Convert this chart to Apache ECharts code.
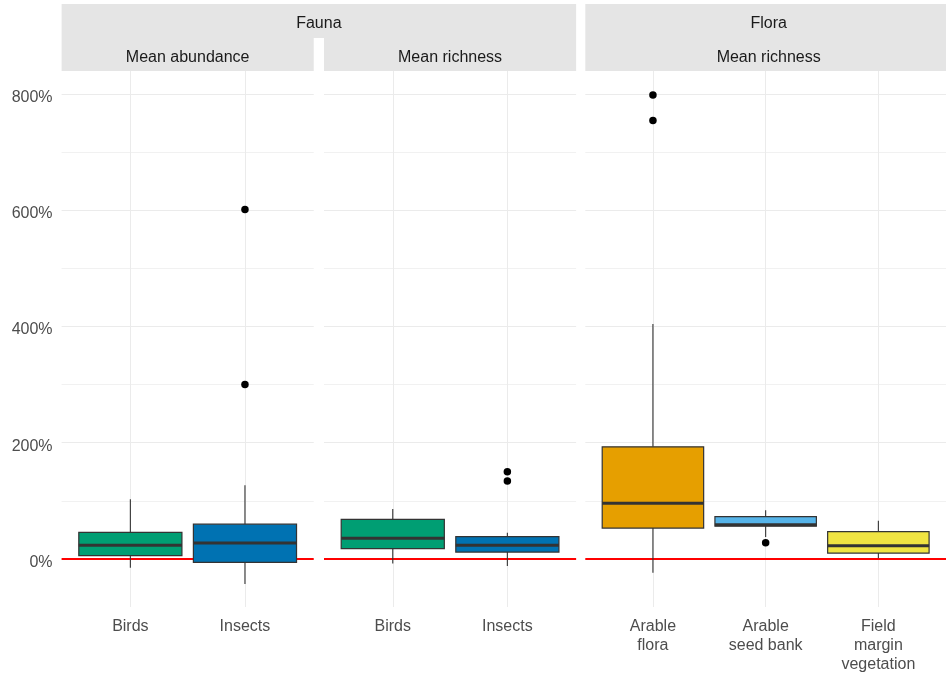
<!DOCTYPE html>
<html>
<head>
<meta charset="utf-8">
<title>Change in abundance and richness</title>
<script src="https://cdn.jsdelivr.net/npm/echarts@6/dist/echarts.min.js"></script>
<style>
  html, body { margin: 0; padding: 0; background: #ffffff; }
  #chart { width: 946px; height: 677px; }
</style>
</head>
<body>
<div id="chart"></div>
<script>
// Groups shown along the x axis of each panel
const faunaGroups = ['Birds', 'Insects'];
const floraGroups = ['Arable\nflora', 'Arable\nseed bank', 'Field\nmargin\nvegetation'];

// Box statistics in %: [lower whisker, Q1, median, Q3, upper whisker]
const faunaAbundanceBoxes = [
  [-15, 5.7, 23.5, 45.9, 102.7],
  [-43, -5.7, 27.5, 60, 127]
];
const faunaRichnessBoxes = [
  [-7.5, 17.8, 35.6, 68.2, 86],
  [-12, 12, 23.5, 38.4, 45.3]
];
const floraRichnessBoxes = [
  [-23.5, 53.3, 95.8, 193, 404],
  [38, 56.7, 58.8, 72.8, 84],
  [1.5, 10.3, 22.9, 47, 66]
];

// Outliers: [group position (1-based), value in %]
const faunaAbundanceOutliers = [[2, 601], [2, 300]];
const faunaRichnessOutliers = [[2, 150], [2, 134]];
const floraRichnessOutliers = [[1, 798], [1, 754], [2, 28]];

// Fill colours per group
const faunaColors = ['#009E73', '#0072B2'];
const floraColors = ['#E69F00', '#56B4E9', '#F0E442'];

// Strip titles
const outerStrips = ['Fauna', 'Flora'];
const innerStrips = ['Mean abundance', 'Mean richness', 'Mean richness'];

// y axis breaks in %
const yMajorTicks = [0, 200, 400, 600, 800];
const yMinorTicks = [100, 300, 500, 700];

const FONT = '"Liberation Sans", Arial, sans-serif';
const Y_MIN = -82.5;
const Y_MAX = 839.2;
const BOX_WIDTH = 0.9;
const UNIT = 114.6;          // pixels per group slot
const PANEL_TOP = 71;
const PANEL_HEIGHT = 536;
const panelLefts = [61.6, 324, 585.3];
const panelGroups = [faunaGroups, faunaGroups, floraGroups];
const panelBoxes = [faunaAbundanceBoxes, faunaRichnessBoxes, floraRichnessBoxes];
const panelOutliers = [faunaAbundanceOutliers, faunaRichnessOutliers, floraRichnessOutliers];
const panelColors = [faunaColors, faunaColors, floraColors];

const chart = echarts.init(document.getElementById('chart'), null, { renderer: 'canvas' });

const grids = [], xAxes = [], yAxes = [], series = [];

panelGroups.forEach((groups, p) => {
  const n = groups.length;
  const positions = groups.map((g, i) => i + 1);
  grids.push({
    left: panelLefts[p],
    top: PANEL_TOP,
    width: (n + 0.2) * UNIT,
    height: PANEL_HEIGHT,
    containLabel: false
  });
  xAxes.push({
    type: 'value',
    gridIndex: p,
    min: 0.4,
    max: n + 0.6,
    axisLine: { show: false },
    axisTick: { show: false, customValues: positions },
    axisLabel: {
      customValues: positions,
      formatter: v => groups[Math.round(v) - 1] || '',
      color: '#4D4D4D',
      fontFamily: FONT,
      fontSize: 16,
      lineHeight: 19,
      margin: 10,
      align: 'center'
    },
    splitLine: { show: true, lineStyle: { color: '#EBEBEB', width: 1 } }
  });
  // major y breaks (labels only on the first panel)
  yAxes.push({
    type: 'value',
    gridIndex: p,
    min: Y_MIN,
    max: Y_MAX,
    axisLine: { show: false },
    axisTick: { show: false, customValues: yMajorTicks },
    axisLabel: {
      show: p === 0,
      customValues: yMajorTicks,
      formatter: v => v + '%',
      color: '#4D4D4D',
      fontFamily: FONT,
      fontSize: 16,
      margin: 9,
      verticalAlign: 'top',
      lineHeight: 7
    },
    splitLine: { show: true, lineStyle: { color: '#EBEBEB', width: 1 } }
  });
  // minor y breaks
  yAxes.push({
    type: 'value',
    gridIndex: p,
    min: Y_MIN,
    max: Y_MAX,
    axisLine: { show: false },
    axisTick: { show: false, customValues: yMinorTicks },
    axisLabel: { show: false, customValues: yMinorTicks },
    splitLine: { show: true, lineStyle: { color: '#F1F1F1', width: 1 } }
  });

  const colors = panelColors[p];
  series.push({
    type: 'custom',
    xAxisIndex: p,
    yAxisIndex: p * 2,
    z: 3,
    data: panelBoxes[p].map((b, i) => [i + 1].concat(b)),
    encode: { x: 0, y: [1, 2, 3, 4, 5] },
    renderItem: (params, api) => {
      const x = api.value(0);
      const lo = api.coord([x, api.value(1)]);
      const q1 = api.coord([x, api.value(2)]);
      const med = api.coord([x, api.value(3)]);
      const q3 = api.coord([x, api.value(4)]);
      const hi = api.coord([x, api.value(5)]);
      const half = api.size([BOX_WIDTH, 0])[0] / 2;
      const edge = '#333333';
      return {
        type: 'group',
        children: [
          { type: 'line', shape: { x1: hi[0], y1: hi[1], x2: q3[0], y2: q3[1] },
            style: { stroke: edge, lineWidth: 1.1 } },
          { type: 'line', shape: { x1: q1[0], y1: q1[1], x2: lo[0], y2: lo[1] },
            style: { stroke: edge, lineWidth: 1.1 } },
          { type: 'rect', shape: { x: q3[0] - half, y: q3[1], width: half * 2, height: q1[1] - q3[1] },
            style: { fill: colors[params.dataIndex], stroke: edge, lineWidth: 1.2 } },
          { type: 'line', shape: { x1: med[0] - half, y1: med[1], x2: med[0] + half, y2: med[1] },
            style: { stroke: edge, lineWidth: 3 } }
        ]
      };
    },
    markLine: {
      silent: true,
      z: 1,
      symbol: ['none', 'none'],
      label: { show: false },
      lineStyle: { color: '#FF0000', width: 2, type: 'solid' },
      data: [{ yAxis: 0 }]
    }
  });
  series.push({
    type: 'scatter',
    xAxisIndex: p,
    yAxisIndex: p * 2,
    z: 4,
    symbol: 'circle',
    symbolSize: 7.5,
    itemStyle: { color: '#000000', opacity: 1 },
    data: panelOutliers[p]
  });
});

// Facet strips
const stripFill = '#E5E5E5';
const stripFont = '16px ' + FONT;
const pRight = p => panelLefts[p] + (panelGroups[p].length + 0.2) * UNIT;
const graphics = [
  { type: 'rect', shape: { x: panelLefts[0], y: 4, width: pRight(1) - panelLefts[0], height: 34 }, style: { fill: stripFill } },
  { type: 'rect', shape: { x: panelLefts[0], y: 38, width: pRight(0) - panelLefts[0], height: 33 }, style: { fill: stripFill } },
  { type: 'rect', shape: { x: panelLefts[1], y: 38, width: pRight(1) - panelLefts[1], height: 33 }, style: { fill: stripFill } },
  { type: 'rect', shape: { x: panelLefts[2], y: 4, width: pRight(2) - panelLefts[2], height: 67 }, style: { fill: stripFill } },
  { type: 'text', x: (panelLefts[0] + pRight(1)) / 2, y: 23.5,
    style: { text: outerStrips[0], font: stripFont, fill: '#1A1A1A', align: 'center', verticalAlign: 'middle' } },
  { type: 'text', x: (panelLefts[2] + pRight(2)) / 2, y: 23.5,
    style: { text: outerStrips[1], font: stripFont, fill: '#1A1A1A', align: 'center', verticalAlign: 'middle' } }
];
innerStrips.forEach((t, p) => {
  graphics.push({ type: 'text', x: (panelLefts[p] + pRight(p)) / 2, y: 57.5,
    style: { text: t, font: stripFont, fill: '#1A1A1A', align: 'center', verticalAlign: 'middle' } });
});

chart.setOption({
  animation: false,
  backgroundColor: '#ffffff',
  grid: grids,
  xAxis: xAxes,
  yAxis: yAxes,
  series: series,
  graphic: graphics
});
</script>
</body>
</html>
